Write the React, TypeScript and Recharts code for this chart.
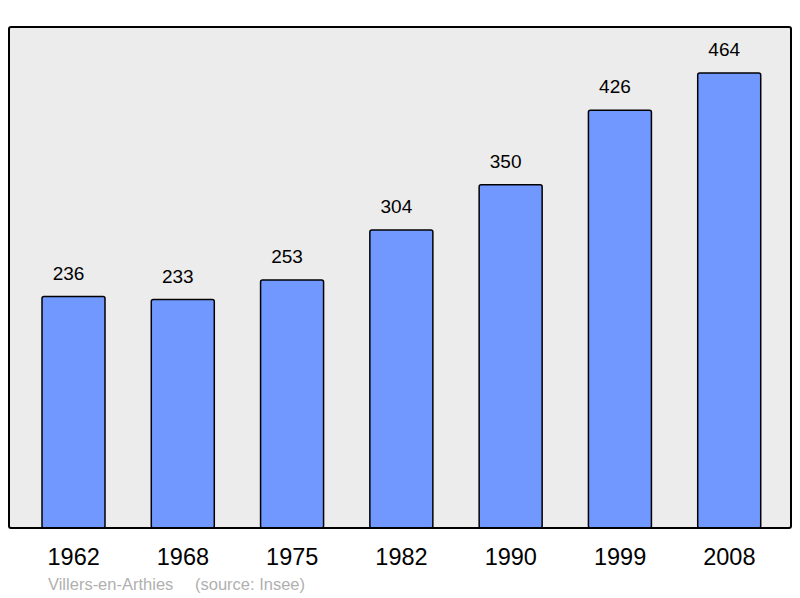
import { BarChart, Bar, XAxis, YAxis, CartesianGrid, LabelList } from 'recharts';

const years = ['1962', '1968', '1975', '1982', '1990', '1999', '2008'];
const population = [236, 233, 253, 304, 350, 426, 464];

const data = years.map((year, i) => ({ year, population: population[i] }));

const font = '"Liberation Sans", Arial, sans-serif';

const App = () => {
  return (
    <div style={{ position: 'absolute', left: 0, top: 0, width: 800, height: 598, background: '#fff', fontFamily: font }}>
      <BarChart
        width={800}
        height={598}
        data={data}
        margin={{ top: 27, right: 9, bottom: 0, left: 9 }}
        barSize={63}
      >
        <CartesianGrid fill="#ececec" horizontal={false} vertical={false} />
        <XAxis
          dataKey="year"
          axisLine={false}
          tickLine={false}
          padding={{ left: 10, right: 7 }}
          height={70}
          tick={{ fill: '#000', fontSize: 23.5, fontFamily: font, dy: 12 }}
        />
        <YAxis hide domain={[0, 511]} />
        <Bar dataKey="population" fill="#7098ff" stroke="#000" strokeWidth={1.5} radius={2} isAnimationActive={false}>
          <LabelList
            dataKey="population"
            position="top"
            offset={17}
            fill="#000"
            fontSize={19}
            fontFamily={font}
            dx={-5}
          />
        </Bar>
      </BarChart>
      <div
        style={{
          position: 'absolute',
          left: 8,
          top: 26,
          width: 784,
          height: 503,
          boxSizing: 'border-box',
          border: '2px solid #000',
          borderRadius: 3,
          pointerEvents: 'none',
        }}
      />
      <div style={{ position: 'absolute', left: 48, top: 575, fontSize: 16.5, color: '#b0b0b0', whiteSpace: 'pre' }}>
        Villers-en-Arthies
      </div>
      <div style={{ position: 'absolute', left: 195, top: 575, fontSize: 16.5, color: '#b0b0b0', whiteSpace: 'pre' }}>
        (source: Insee)
      </div>
    </div>
  );
};

export default App;
